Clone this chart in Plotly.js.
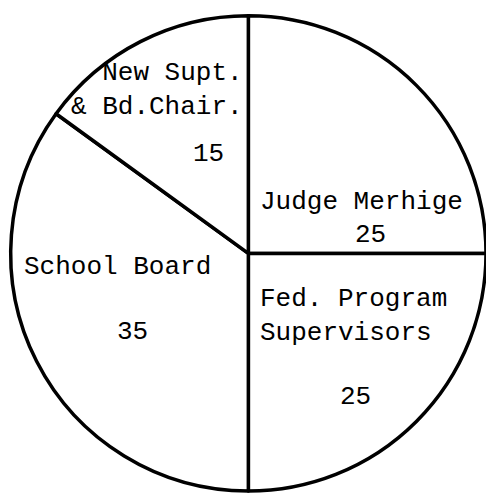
<!DOCTYPE html>
<html>
<head>
<meta charset="utf-8">
<script src="https://cdn.plot.ly/plotly-3.0.1.min.js"></script>
<style>html,body{margin:0;padding:0;background:#fff;overflow:hidden;}</style>
</head>
<body>
<div id="chart" style="width:486px;height:494px;"></div>
<script>
const categories = ["Judge Merhige", "Fed. Program Supervisors", "School Board", "New Supt. & Bd.Chair."];
const values = [25, 25, 35, 15];
// label text lines as typed on the original chart, per slice
const nameLines = [
  ["Judge Merhige"],
  ["Fed. Program", "Supervisors"],
  ["School Board"],
  ["New Supt.", "& Bd.Chair."]
];

const W = 486, H = 494;
const FONT = {family: "Liberation Mono, DejaVu Sans Mono, monospace", size: 26, color: "#000000"};

// label placement (pixels, style only)
const namePos = [
  {x: 258, y: 202, xanchor: "left", align: "left"},
  {x: 258, y: 316, xanchor: "left", align: "left"},
  {x: 22,  y: 267, xanchor: "left", align: "left"},
  {x: 245, y: 90,  xanchor: "right", align: "right"}
];
const valuePos = [
  {x: 370, y: 235},
  {x: 355, y: 397},
  {x: 132, y: 332},
  {x: 208, y: 154}
];

const annotations = [];
for (let i = 0; i < categories.length; i++) {
  annotations.push({
    xref: "paper", yref: "paper",
    x: namePos[i].x / W, y: 1 - namePos[i].y / H,
    xanchor: namePos[i].xanchor, yanchor: "middle",
    align: namePos[i].align,
    text: nameLines[i].join("<br>"),
    showarrow: false, font: FONT
  });
  annotations.push({
    xref: "paper", yref: "paper",
    x: valuePos[i].x / W, y: 1 - valuePos[i].y / H,
    xanchor: "center", yanchor: "middle",
    text: String(values[i]),
    showarrow: false, font: FONT
  });
}

const trace = {
  type: "pie",
  labels: categories,
  values: values,
  textinfo: "none",
  sort: false,
  direction: "clockwise",
  rotation: 0,
  hole: 0,
  marker: {
    colors: ["#ffffff", "#ffffff", "#ffffff", "#ffffff"],
    line: {color: "#000000", width: 3.5}
  },
  domain: {x: [0.022, 1], y: [0.002, 0.972]},
  showlegend: false,
  hoverinfo: "label+value"
};

const layout = {
  width: W,
  height: H,
  margin: {l: 0, r: 0, t: 0, b: 0},
  paper_bgcolor: "#ffffff",
  plot_bgcolor: "#ffffff",
  showlegend: false,
  annotations: annotations
};

Plotly.newPlot("chart", [trace], layout, {displayModeBar: false, staticPlot: true});
</script>
</body>
</html>
